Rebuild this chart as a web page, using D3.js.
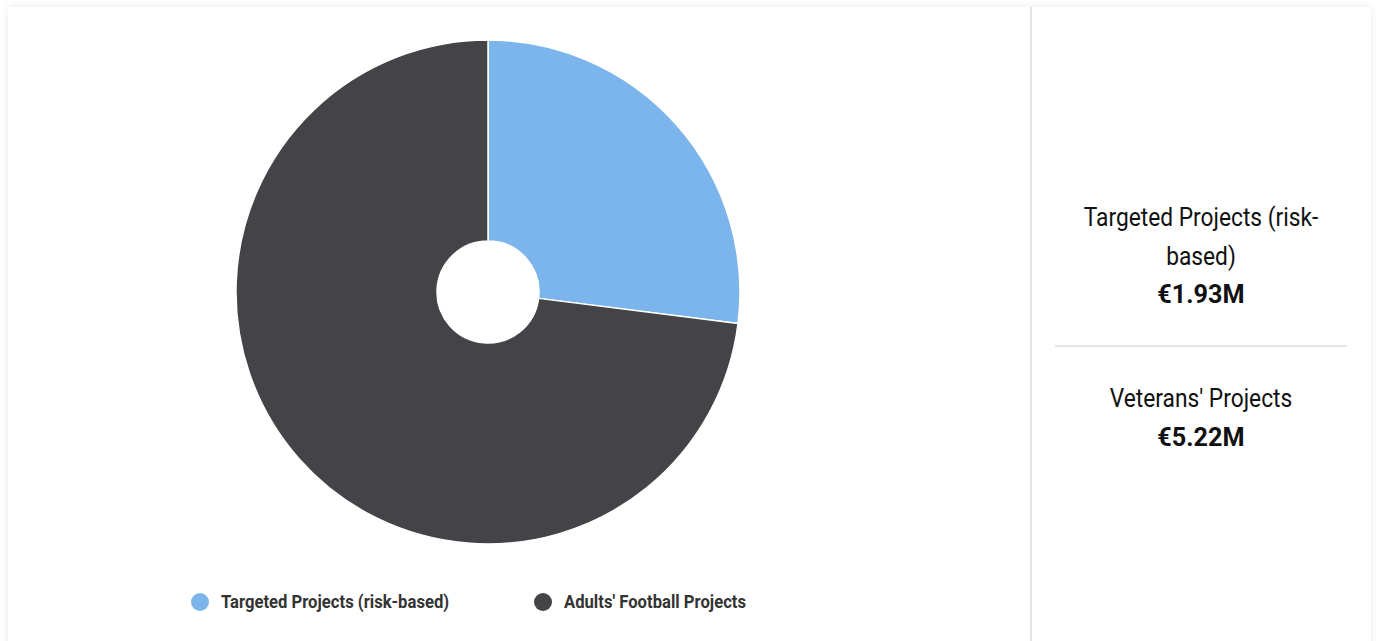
<html>
<head>
	<title>Projects pie</title>
	<script src="https://d3js.org/d3.v7.min.js"></script>
	<style type="text/css">
		body { margin: 0; background: #fff; font-family: Roboto, sans-serif; }
		.card {
			position: absolute;
			left: 8px; top: 7px;
			width: 1363px; height: 660px;
			background: #fff;
			box-shadow: 0 0 8px rgba(0,0,0,0.09);
		}
		svg { position: absolute; left: 0; top: 0; }
	</style>
</head>
<body>
<div class="card"></div>
<svg id="chart" width="1376" height="641"></svg>

<script type="text/javascript">
// data
var categories = ["Targeted Projects (risk-based)", "Adults' Football Projects"];
var values = [1.93, 5.22];
var colors = ["#7cb5ec", "#434348"];
var panelLabels = [["Targeted Projects (risk-", "based)"], ["Veterans' Projects"]];
var panelValues = ["€1.93M", "€5.22M"];

var svg = d3.select("#chart");

// divider between chart and side panel
svg.append("rect")
	.attr("x", 1030).attr("y", 7)
	.attr("width", 2).attr("height", 634)
	.attr("fill", "#dfe3e8");

// pie
var cx = 488, cy = 292, outerR = 252, innerR = 51;
var pie = d3.pie().sort(null).value(function(d) { return d; });
var arc = d3.arc().innerRadius(innerR).outerRadius(outerR);

var g = svg.append("g").attr("transform", "translate(" + cx + "," + cy + ")");
g.selectAll("path")
	.data(pie(values))
	.enter().append("path")
	.attr("d", arc)
	.attr("fill", function(d, i) { return colors[i]; })
	.attr("stroke", "#fff")
	.attr("stroke-width", 1.5)
	.attr("stroke-linejoin", "round");

// legend
var legendX = [200, 543];
var legend = svg.selectAll(".legend")
	.data(categories)
	.enter().append("g")
	.attr("class", "legend")
	.attr("transform", function(d, i) { return "translate(" + legendX[i] + ",602)"; });

legend.append("circle")
	.attr("r", 9)
	.attr("fill", function(d, i) { return colors[i]; });

// squeezed horizontally to look like a condensed face
legend.append("text")
	.attr("transform", "translate(21,6) scale(0.925,1)")
	.attr("font-size", 18)
	.attr("font-weight", 700)
	.attr("fill", "#333")
	.text(function(d) { return d; });

// side panel
var panelX = 1201;
var lineH = 38.5;
var blockTop = [226, 407];

panelLabels.forEach(function(lines, i) {
	var y = blockTop[i];
	lines.forEach(function(line, j) {
		svg.append("text")
			.attr("transform", "translate(" + panelX + "," + (y + j * lineH) + ") scale(0.91,1)")
			.attr("text-anchor", "middle")
			.attr("font-size", 25)
			.attr("fill", "#111")
			.text(line);
	});
	svg.append("text")
		.attr("transform", "translate(" + panelX + "," + (y + lines.length * lineH) + ") scale(0.97,1)")
		.attr("text-anchor", "middle")
		.attr("font-size", 26)
		.attr("font-weight", 700)
		.attr("fill", "#111")
		.text(panelValues[i]);
});

svg.append("rect")
	.attr("x", 1055).attr("y", 345)
	.attr("width", 292).attr("height", 2)
	.attr("fill", "#e1e5e9");
</script>
</body>
</html>
